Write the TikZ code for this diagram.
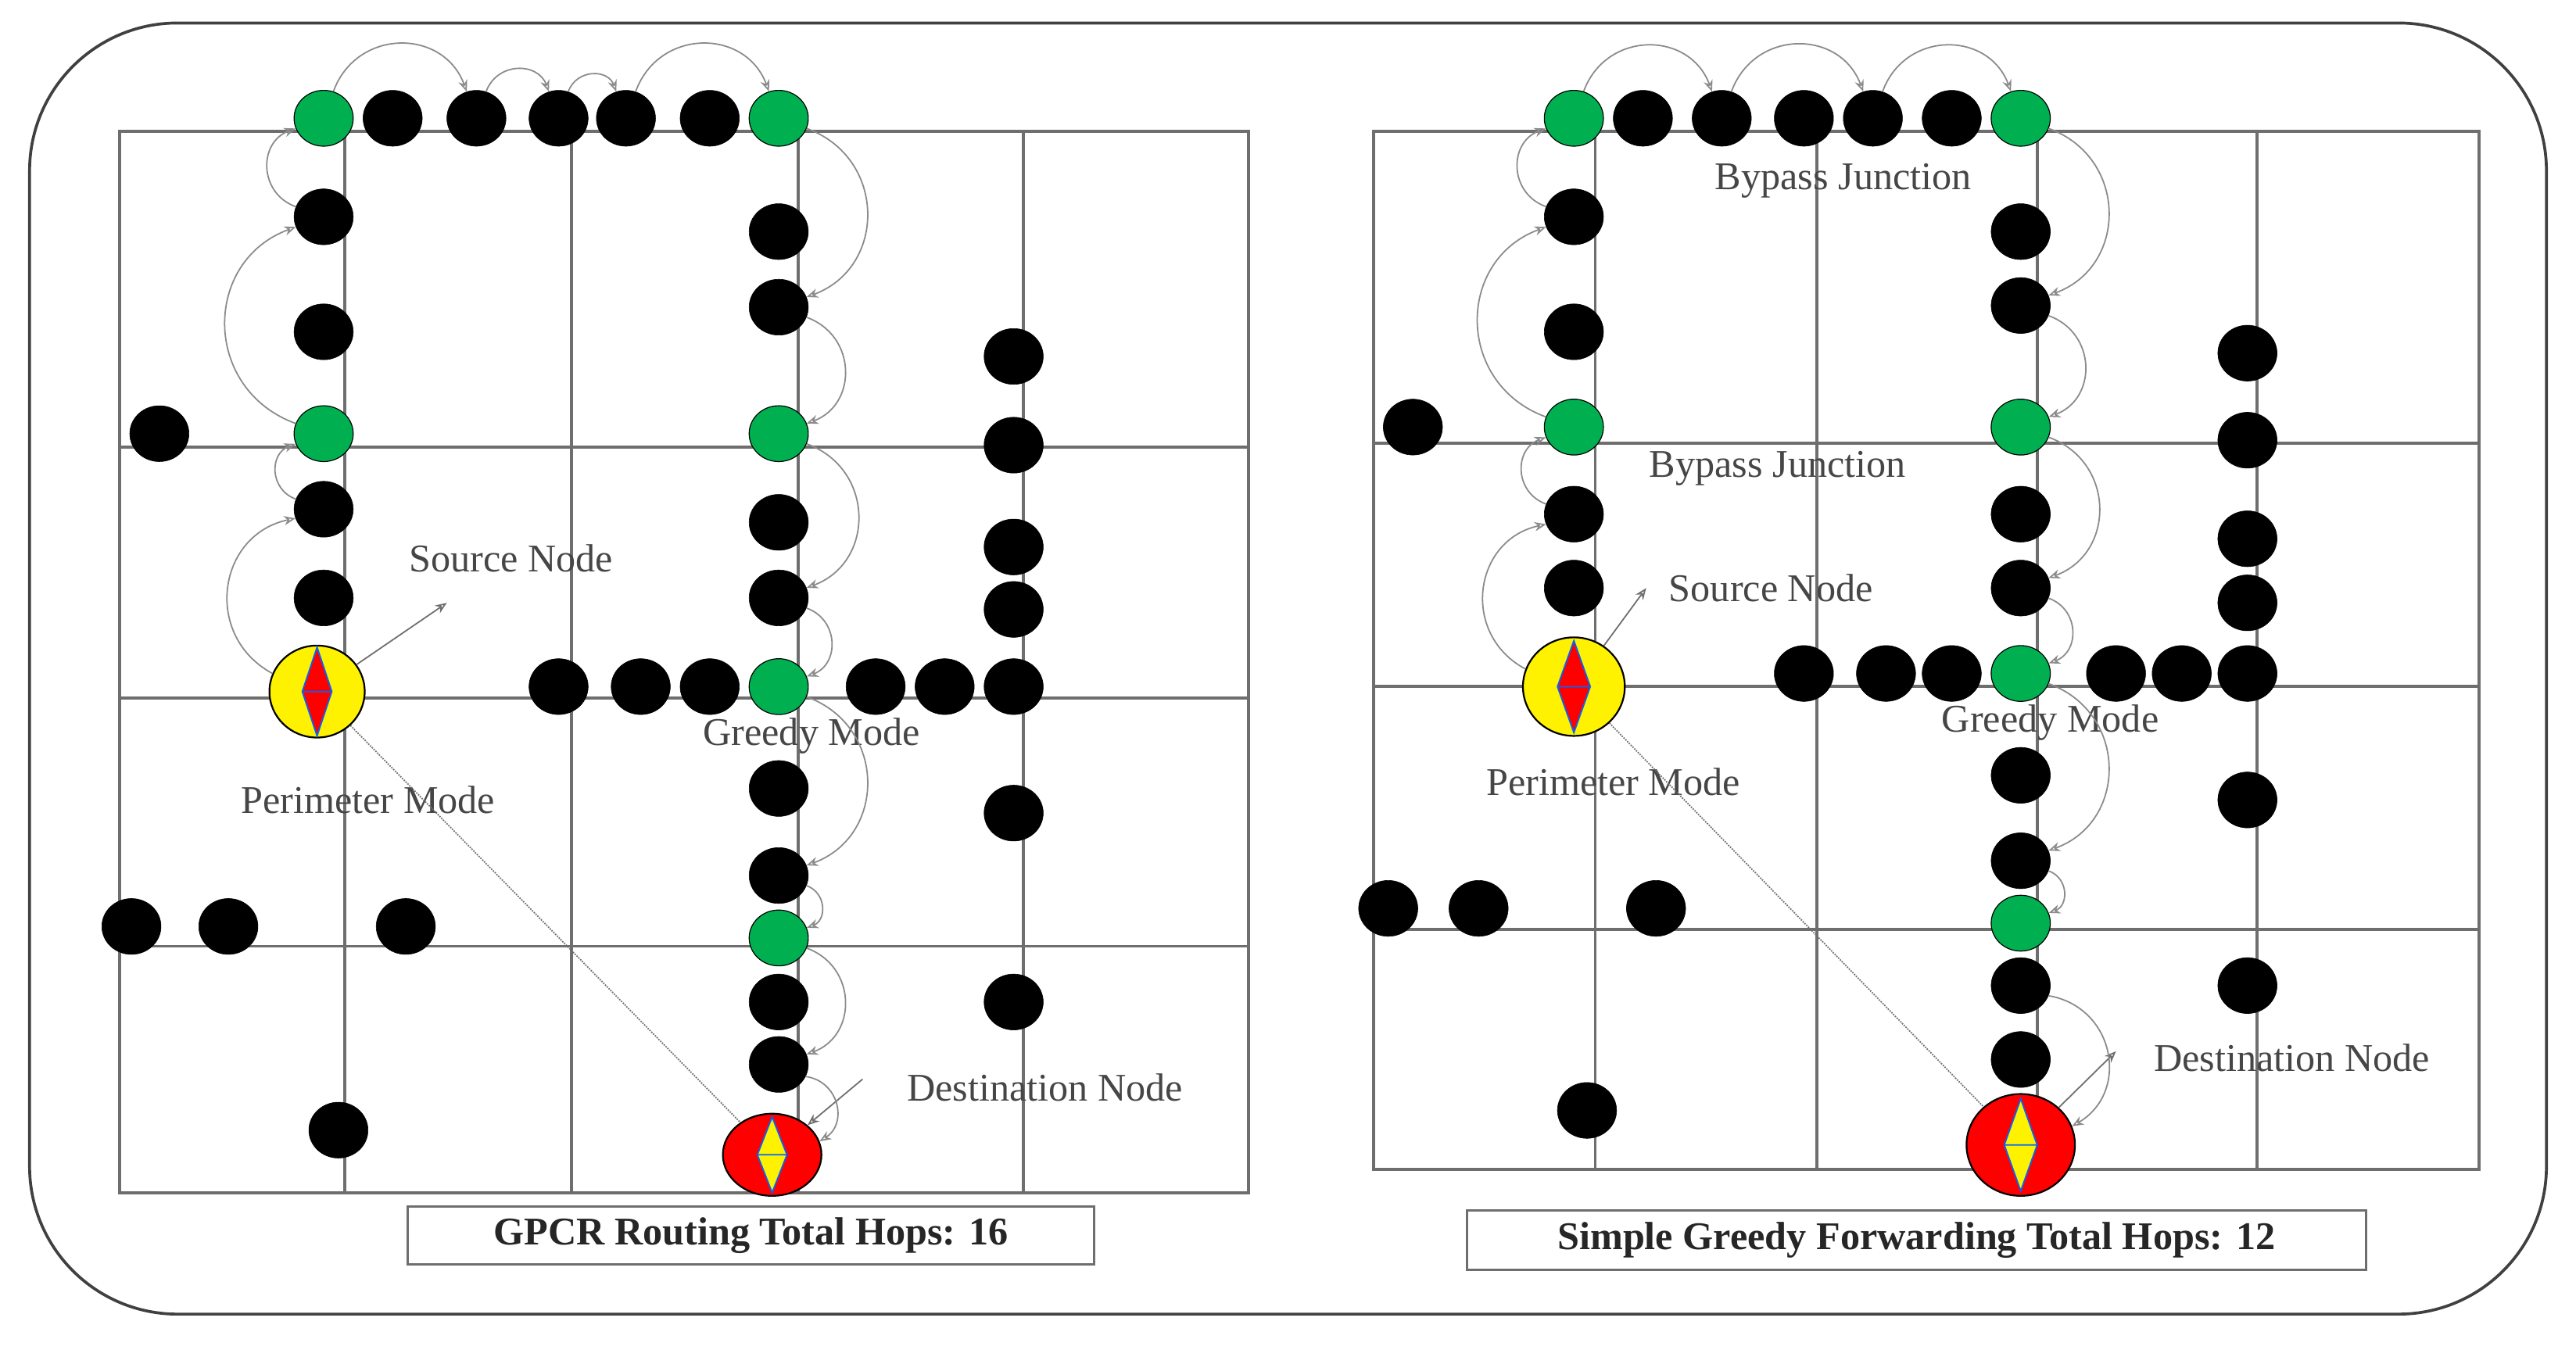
\documentclass[tikz,border=0pt]{standalone}
\usepackage{fontspec}
\setmainfont{Liberation Serif}
\usetikzlibrary{shapes.geometric,arrows.meta}
\definecolor{gr}{RGB}{0,176,80}
\definecolor{gl}{RGB}{110,110,110}
\definecolor{tx}{RGB}{70,70,70}
\begin{document}
\begin{tikzpicture}[x=0.05cm,y=-0.05cm,
 bk/.style={ellipse,fill=black,draw=black,minimum width=1.8cm,minimum height=1.7cm,inner sep=0},
 gn/.style={bk,fill=gr,line width=0.8pt},
 grid/.style={gl,line width=2.6pt},
 hop/.style={gl!80!white,line width=1.2pt,-{Stealth[length=10pt,width=8pt,open]},bend left=70,looseness=1.3},
 lab/.style={tx,font=\fontsize{34}{36}\selectfont,inner sep=0},
 capbox/.style={draw=gl,line width=2pt,fill=white,font=\bfseries\fontsize{34}{36}\selectfont,inner sep=0,text=black!85}]
\useasboundingbox (0,0) rectangle (1568,826);
\fill[white] (0,0) rectangle (1568,826);
\draw[line width=2.5pt,black!75,rounded corners=4.5cm] (18,14) rectangle (1550,800);
% ---------- left grid
\draw[grid] (73,80) rectangle (760,726);
\foreach \x in {210,348,486,623} \draw[grid] (\x,80)--(\x,726);
\foreach \y in {272,425,576} \draw[grid] (73,\y)--(760,\y);
% ---------- right grid
\draw[grid] (836,80) rectangle (1509,712);
\foreach \x in {971,1106,1240,1374} \draw[grid] (\x,80)--(\x,712);
\foreach \y in {270,418,566} \draw[grid] (836,\y)--(1509,\y);
% ---------- left nodes
\node[gn] (LTa) at (197,72) {};
\foreach \x [count=\i] in {239,290,340,381,432} \node[bk] (LT\i) at (\x,72) {};
\node[gn] (LTb) at (474,72) {};
\node[bk] (LC1) at (197,132) {};
\node[bk] (LC2) at (197,202) {};
\node[gn] (LCg) at (197,264) {};
\node[bk] (LC3) at (197,310) {};
\node[bk] (LC4) at (197,364) {};
\node[bk] (LX) at (97,264) {};
\node[bk] (LR1) at (474,141) {};
\node[bk] (LR2) at (474,187) {};
\node[gn] (LRg1) at (474,264) {};
\node[bk] (LR3) at (474,318) {};
\node[bk] (LR4) at (474,364) {};
\node[gn] (LRg2) at (474,418) {};
\node[bk] (LR5) at (474,480) {};
\node[bk] (LR6) at (474,533) {};
\node[gn] (LRg3) at (474,571) {};
\node[bk] (LR7) at (474,610) {};
\node[bk] (LR8) at (474,648) {};
\foreach \x [count=\i] in {340,390,432,533,575} \node[bk] (LH\i) at (\x,418) {};
\foreach \y [count=\i] in {217,271,333,371,418,495,610} \node[bk] (LV\i) at (617,\y) {};
\foreach \x [count=\i] in {80,139,247} \node[bk] (LB\i) at (\x,564) {};
\node[bk] (LB4) at (206,688) {};
\node[ellipse,fill=yellow,draw=black,line width=1.5pt,minimum width=2.9cm,minimum height=2.8cm] (LS) at (193,421) {};
\draw[fill=red,draw=blue!60!cyan,line width=1.2pt] (193,394)--(202,421)--(193,448)--(184,421)--cycle (184,421)--(202,421);
\node[ellipse,fill=red,draw=black,line width=1.5pt,minimum width=3cm,minimum height=2.5cm] (LD) at (470,703) {};
\draw[fill=yellow,draw=blue!60!cyan,line width=1.2pt] (470,680)--(479,703)--(470,726)--(461,703)--cycle (461,703)--(479,703);
% left labels
\node[lab] (LlS) at (311,340) {Source Node};
\node[lab] (LlG) at (494,448) {Greedy Mode};
\node[lab] (LlP) at (224,487) {Perimeter Mode};
\node[lab] (LlD) at (636,662) {Destination Node};
\node[capbox,minimum width=20.9cm,minimum height=1.75cm] (LCap) at (457,752) {GPCR Routing Total Hops: 16};
\coordinate (LSa) at (272,367);
\coordinate (LDa) at (525,657);
\draw[gl,line width=1.2pt,-{Stealth[length=10pt,width=8pt,open]}] (LS) -- (LSa);
\draw[gl,line width=1.2pt,-{Stealth[length=10pt,width=8pt,open]}] (LDa) -- (LD);
\draw[gl,line width=1.2pt,densely dotted] (LS) -- (LD);
\foreach \a/\b in {LS/LC3,LC3/LCg,LCg/LC1,LC1/LTa,LTa/LT2,LT2/LT3,LT3/LT4,LT4/LTb,LTb/LR2,LR2/LRg1,LRg1/LR4,LR4/LRg2,LRg2/LR6,LR6/LRg3,LRg3/LR8,LR8/LD}
  \draw[hop] (\a) to (\b);
% ---------- right nodes
\node[gn] (RTa) at (958,72) {};
\foreach \x [count=\i] in {1000,1048,1098,1140,1188} \node[bk] (RT\i) at (\x,72) {};
\node[gn] (RTb) at (1230,72) {};
\node[bk] (RC1) at (958,132) {};
\node[bk] (RC2) at (958,202) {};
\node[gn] (RCg) at (958,260) {};
\node[bk] (RC3) at (958,313) {};
\node[bk] (RC4) at (958,358) {};
\node[bk] (RX) at (860,260) {};
\node[bk] (RR1) at (1230,141) {};
\node[bk] (RR2) at (1230,186) {};
\node[gn] (RRg1) at (1230,260) {};
\node[bk] (RR3) at (1230,313) {};
\node[bk] (RR4) at (1230,358) {};
\node[gn] (RRg2) at (1230,410) {};
\node[bk] (RR5) at (1230,472) {};
\node[bk] (RR6) at (1230,524) {};
\node[gn] (RRg3) at (1230,562) {};
\node[bk] (RR7) at (1230,600) {};
\node[bk] (RR8) at (1230,645) {};
\foreach \x [count=\i] in {1098,1148,1188,1288,1328} \node[bk] (RH\i) at (\x,410) {};
\foreach \y [count=\i] in {215,268,328,367,410,487,600} \node[bk] (RV\i) at (1368,\y) {};
\foreach \x [count=\i] in {845,900,1008} \node[bk] (RB\i) at (\x,553) {};
\node[bk] (RB4) at (966,676) {};
\node[ellipse,fill=yellow,draw=black,line width=1.5pt,minimum width=3.1cm,minimum height=3cm] (RS) at (958,418) {};
\draw[fill=red,draw=blue!60!cyan,line width=1.2pt] (958,390)--(968,418)--(958,446)--(948,418)--cycle (948,418)--(968,418);
\node[ellipse,fill=red,draw=black,line width=1.5pt,minimum width=3.3cm,minimum height=3.1cm] (RD) at (1230,697) {};
\draw[fill=yellow,draw=blue!60!cyan,line width=1.2pt] (1230,669)--(1240,697)--(1230,725)--(1220,697)--cycle (1220,697)--(1240,697);
\node[lab] (RlB1) at (1122,110) {Bypass Junction};
\node[lab] (RlB2) at (1082,285) {Bypass Junction};
\node[lab] (RlS) at (1078,358) {Source Node};
\node[lab] (RlG) at (1248,440) {Greedy Mode};
\node[lab] (RlP) at (982,476) {Perimeter Mode};
\node[lab] (RlD) at (1395,644) {Destination Node};
\node[capbox,minimum width=27.35cm,minimum height=1.8cm] (RCap) at (1166.5,755) {Simple Greedy Forwarding Total Hops: 12};
\coordinate (RSa) at (1002,358);
\coordinate (RDa) at (1288,640);
\draw[gl,line width=1.2pt,-{Stealth[length=10pt,width=8pt,open]}] (RS) -- (RSa);
\draw[gl,line width=1.2pt,-{Stealth[length=10pt,width=8pt,open]}] (RD) -- (RDa);
\draw[gl,line width=1.2pt,densely dotted] (RS) -- (RD);
\foreach \a/\b in {RS/RC3,RC3/RCg,RCg/RC1,RC1/RTa,RTa/RT2,RT2/RT4,RT4/RTb,RTb/RR2,RR2/RRg1,RRg1/RR4,RR4/RRg2,RRg2/RR6,RR6/RRg3,RR7/RD}
  \draw[hop] (\a) to (\b);
\end{tikzpicture}
\end{document}
